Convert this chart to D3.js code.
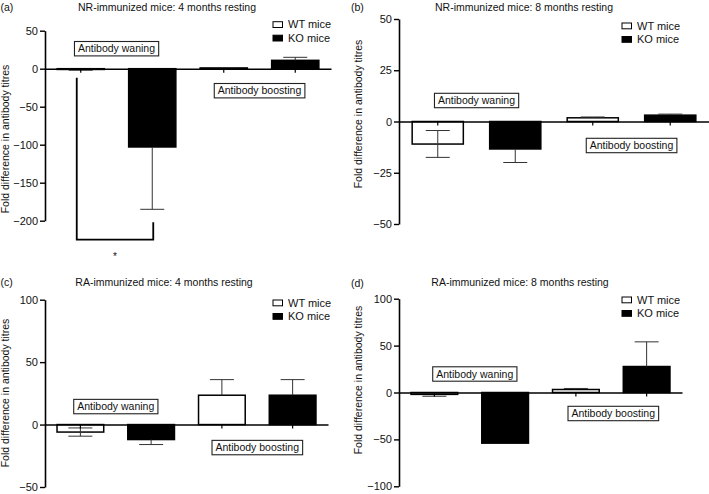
<!DOCTYPE html>
<html><head><meta charset="utf-8">
<script src="https://cdn.jsdelivr.net/npm/d3@7"></script>
<style>
body{margin:0;background:#fff}
svg{display:block}
text{font-family:"Liberation Sans",Arial,Helvetica,sans-serif;fill:#111}
</style>
</head><body>
<svg id="chart" width="709" height="494"></svg>
<script>
// ---------- data ----------
const groups = ["Antibody waning", "Antibody boosting"];
const seriesNames = ["WT mice", "KO mice"];
const panelLetters = ["(a)", "(b)", "(c)", "(d)"];
const panelTitles = [
  "NR-immunized mice: 4 months resting",
  "NR-immunized mice: 8 months resting",
  "RA-immunized mice: 4 months resting",
  "RA-immunized mice: 8 months resting"
];
const yAxisLabel = "Fold difference in antibody titres";

const ticksA = [50, 0, -50, -100, -150, -200];
const ticksB = [50, 25, 0, -25, -50];
const ticksC = [100, 50, 0, -50];
const ticksD = [100, 50, 0, -50, -100];

// mean values [waning, boosting]
const wtA = [-1, 1],      koA = [-103, 11];
const wtB = [-11, 1.8],   koB = [-13.4, 3.1];
const wtC = [-6, 23.5],   koC = [-12, 23.5];
const wtD = [-2, 3.2],    koD = [-54, 27.7];

// error bar extents [low, high] per group
const wtErrA = [[-2, -1], [1, 1.5]],          koErrA = [[-185, -103], [11, 15]];
const wtErrB = [[-17.5, -4.4], [1.8, 2.2]],   koErrB = [[-20, -13.4], [3.1, 3.6]];
const wtErrC = [[-9.3, -2.7], [23.5, 36]],    koErrC = [[-16, -12], [23.5, 36]];
const wtErrD = [[-4, -2], [3.2, 4.3]],        koErrD = [[-54, -54], [27.7, 54]];

// significance bracket in panel (a): left top, right top, bottom (data units)
const sigBracketA = [-12, -202, -225];
const sigMarkA = "*";

// ---------- layout ----------
const panels = [
  {wt: wtA, ko: koA, wtErr: wtErrA, koErr: koErrA, ticks: ticksA,
   x0: 45, x1: 331, yTop: 30.7, yBot: 220.7,
   title: [167, 10.5], letter: [0.5, 10.5], ylab: [9, 139],
   legend: [273, 21.7], waningOff: -20, boostOff: 22, sig: true},
  {wt: wtB, ko: koB, wtErr: wtErrB, koErr: koErrB, ticks: ticksB,
   x0: 399, x1: 709, yTop: 19, yBot: 224,
   title: [524, 10.5], letter: [351, 10.5], ylab: [361.5, 114],
   legend: [622, 23], waningOff: -21, boostOff: 24},
  {wt: wtC, ko: koC, wtErr: wtErrC, koErr: koErrC, ticks: ticksC,
   x0: 45, x1: 328, yTop: 299.7, yBot: 487,
   title: [164, 286], letter: [0.5, 286], ylab: [9, 393],
   legend: [273, 300], waningOff: -18, boostOff: 23},
  {wt: wtD, ko: koD, wtErr: wtErrD, koErr: koErrD, ticks: ticksD,
   x0: 399, x1: 682, yTop: 298.7, yBot: 486.3,
   title: [520, 286], letter: [351, 287], ylab: [361.5, 380],
   legend: [622, 297], waningOff: -18.5, boostOff: 21, waningDx: 5, boostDx: 2}
];

const FS = 10.5;
const svg = d3.select("#chart");

panels.forEach((p, pi) => {
  const g = svg.append("g");
  const ext = d3.extent(p.ticks);
  const y = d3.scaleLinear().domain([ext[1], ext[0]]).range([p.yTop, p.yBot]);
  const x = d3.scaleBand().domain([0, 1, 2, 3]).range([p.x0, p.x1])
    .paddingInner(0.34).paddingOuter(0.17);

  const bars = [];
  groups.forEach((grp, gi) => {
    bars.push({i: gi * 2, s: 0, v: p.wt[gi], e: p.wtErr[gi]});
    bars.push({i: gi * 2 + 1, s: 1, v: p.ko[gi], e: p.koErr[gi]});
  });

  // bars
  g.selectAll("rect.bar").data(bars).join("rect")
    .attr("class", "bar")
    .attr("x", d => x(d.i))
    .attr("width", x.bandwidth())
    .attr("y", d => Math.min(y(d.v), y(0)))
    .attr("height", d => Math.abs(y(d.v) - y(0)))
    .attr("fill", d => d.s === 0 ? "#fff" : "#000")
    .attr("stroke", "#000")
    .attr("stroke-width", 1.5);

  // error bars
  const capW = 24;
  bars.forEach(d => {
    const cx = x(d.i) + x.bandwidth() / 2;
    const [lo, hi] = d.e;
    if (lo === hi) return;
    g.append("line").attr("x1", cx).attr("x2", cx)
      .attr("y1", y(lo)).attr("y2", y(hi))
      .attr("stroke", "#333").attr("stroke-width", 1);
    [lo, hi].forEach(v => {
      if (v === d.v) return;
      g.append("line").attr("x1", cx - capW / 2).attr("x2", cx + capW / 2)
        .attr("y1", y(v)).attr("y2", y(v))
        .attr("stroke", "#333").attr("stroke-width", 1);
    });
  });

  // y axis
  const ya = g.append("g").attr("transform", `translate(${p.x0},0)`)
    .call(d3.axisLeft(y).tickValues(p.ticks).tickSize(5).tickPadding(2).tickSizeOuter(0)
      .tickFormat(d => d < 0 ? "\u2212" + Math.abs(d) : d));
  ya.select(".domain").attr("stroke", "#000").attr("stroke-width", 1.6);
  ya.selectAll(".tick line").attr("stroke", "#000").attr("stroke-width", 1.4);
  ya.selectAll(".tick text").attr("font-size", FS + 0.5).attr("fill", "#111")
    .style("font-family", '"Liberation Sans",Arial,sans-serif');

  // x axis (zero line)
  const xa = g.append("g").attr("transform", `translate(0,${y(0)})`)
    .call(d3.axisBottom(x).tickSize(4).tickSizeOuter(0).tickFormat(""));
  xa.select(".domain").attr("stroke", "#000").attr("stroke-width", 1.6);
  xa.selectAll(".tick line").attr("stroke", "#000").attr("stroke-width", 1.2);

  // title & letter
  g.append("text").attr("x", p.title[0]).attr("y", p.title[1])
    .attr("text-anchor", "middle").attr("font-size", FS).text(panelTitles[pi]);
  g.append("text").attr("x", p.letter[0]).attr("y", p.letter[1])
    .attr("font-size", FS).text(panelLetters[pi]);

  // y label
  g.append("text")
    .attr("transform", `translate(${p.ylab[0]},${p.ylab[1]}) rotate(-90)`)
    .attr("text-anchor", "middle").attr("font-size", FS).text(yAxisLabel);

  // legend
  seriesNames.forEach((s, si) => {
    const ly = p.legend[1] + si * 13.5;
    g.append("rect").attr("x", p.legend[0]).attr("y", ly)
      .attr("width", 9.5).attr("height", 5.8)
      .attr("fill", si === 0 ? "#fff" : "#000")
      .attr("stroke", "#000").attr("stroke-width", 1);
    g.append("text").attr("x", p.legend[0] + 15).attr("y", ly + 6.5)
      .attr("font-size", FS + 0.5).text(s);
  });

  // group annotation boxes
  groups.forEach((grp, gi) => {
    const cx = (x(gi * 2) + x(gi * 2 + 1) + x.bandwidth()) / 2 +
      (gi === 0 ? (p.waningDx || 0) : (p.boostDx || 0));
    const cy = y(0) + (gi === 0 ? p.waningOff : p.boostOff);
    const t = g.append("text").attr("x", cx).attr("y", cy + FS * 0.36)
      .attr("text-anchor", "middle").attr("font-size", FS).text(grp);
    const bb = t.node().getBBox();
    g.insert("rect", () => t.node())
      .attr("x", bb.x - 3.5).attr("y", cy - 7.2)
      .attr("width", bb.width + 7).attr("height", 14.4)
      .attr("fill", "#fff").attr("stroke", "#222").attr("stroke-width", 1.1);
  });

  // significance bracket (panel a)
  if (p.sig) {
    const lx = x(0) + x.bandwidth() / 2 - 4;
    const rx = x(1) + x.bandwidth() / 2 + 1;
    const [lt, rt, bt] = sigBracketA;
    g.append("path")
      .attr("d", `M${lx},${y(lt)}V${y(bt)}H${rx}V${y(rt)}`)
      .attr("fill", "none").attr("stroke", "#000").attr("stroke-width", 1.8);
    g.append("text").attr("x", (lx + rx) / 2).attr("y", y(bt) + 20)
      .attr("text-anchor", "middle").attr("font-size", 10).text(sigMarkA);
  }
});
</script>
</body></html>
